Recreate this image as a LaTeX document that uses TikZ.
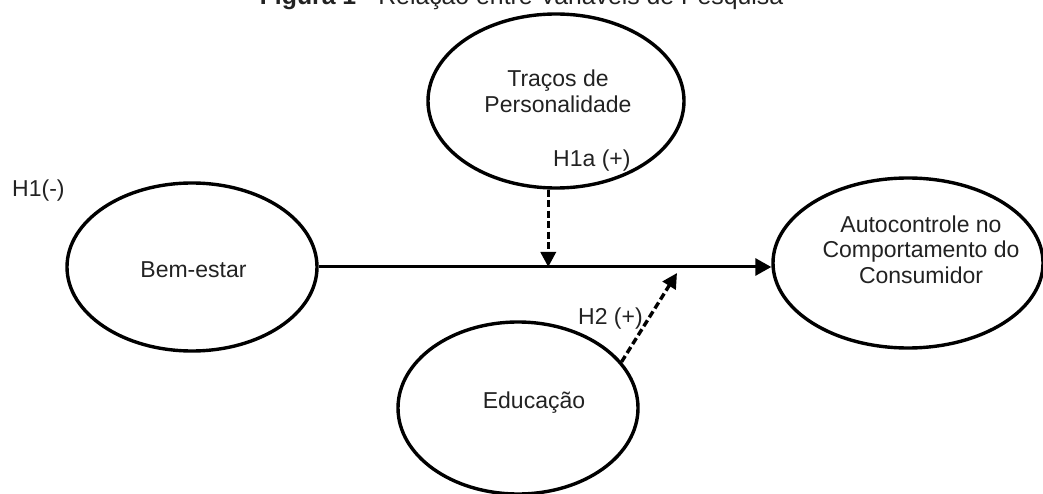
\documentclass[tikz,border=0pt]{standalone}
\usepackage{fontspec}
\setmainfont{Liberation Sans}
\usetikzlibrary{shapes.geometric,arrows.meta}
\definecolor{txt}{HTML}{222222}
\begin{document}
\begin{tikzpicture}[x=1pt,y=1pt,
  ell/.style={draw=black, line width=3.4pt, ellipse, inner sep=0pt},
  lbl/.style={text=txt, font=\fontsize{23}{25.5}\selectfont, align=center, inner sep=0pt},
  solidarrow/.style={line width=3pt, -{Triangle[length=16pt,width=17pt]}},
  dasharrow/.style={line width=3.4pt, dash pattern=on 7pt off 3.5pt, -{Triangle[length=15pt,width=15pt]}}
]
\useasboundingbox (0,0) rectangle (1043,493);
% title
\node[lbl, font=\fontsize{24.8}{27}\selectfont, anchor=base] (title) at (521.5,488) {\textbf{Figura 1} - Relação entre Variáveis de Pesquisa};
% ellipses
\node[ell, minimum width=256pt, minimum height=174pt] (trac) at (556,392) {};
\node[ell, minimum width=250pt, minimum height=168pt] (bem) at (192,226) {};
\node[ell, minimum width=270pt, minimum height=170pt] (auto) at (908,230) {};
\node[ell, minimum width=240pt, minimum height=172pt] (edu) at (518,85) {};
% texts
\node[lbl] (tract) at (558,401.5) {Traços de\\Personalidade};
\node[lbl] (bemt) at (193.5,223.5) {Bem-estar};
\node[lbl] (autot) at (921,243.4) {Autocontrole no\\Comportamento do\\Consumidor};
\node[lbl] (edut) at (534,90) {Educação};
% hypothesis labels
\node[lbl, anchor=base west] (h1a) at (553,326) {H1a (+)};
\node[lbl, anchor=base west] (h1) at (12,296) {H1(-)};
\node[lbl, anchor=base west] (h2) at (578,169) {H2 (+)};
% connectors
\coordinate (h2end) at (677,220);
\draw[solidarrow] (bem.east) -- (bem.east -| auto.west);
\draw[dasharrow] (trac.265) -- (trac.265 |- bem.east);
\draw[dasharrow] (edu.24) -- (h2end);
\end{tikzpicture}
\end{document}
